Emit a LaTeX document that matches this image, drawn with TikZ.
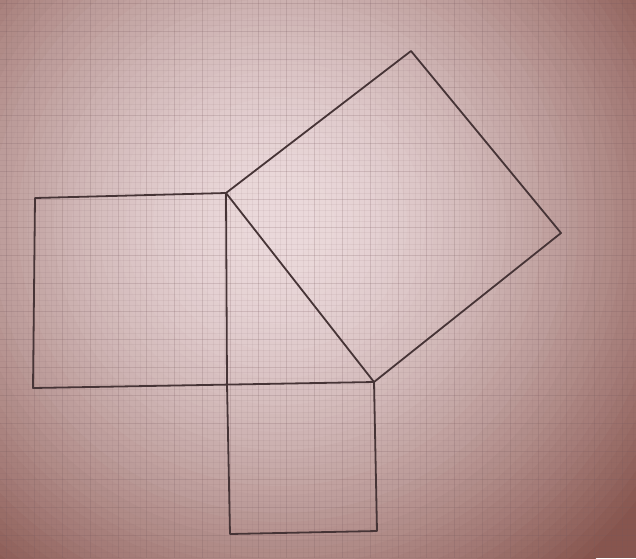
\documentclass[tikz,border=0pt]{standalone}
\definecolor{paperhi}{RGB}{234,216,218}
\definecolor{paperlo}{RGB}{135,85,78}
\definecolor{gridink}{RGB}{120,90,95}
\definecolor{penink}{RGB}{70,52,54}
\begin{document}
\begin{tikzpicture}
  [x=0.5pt,y=-0.5pt,
   gridfine/.style={draw=gridink,line width=0.2pt,opacity=0.08},
   gridbold/.style={draw=gridink,line width=0.3pt,opacity=0.14},
   pencil/.style={draw=penink,line width=0.9pt,line join=round,line cap=round}]
  \useasboundingbox (0,0) rectangle (636,558);
  % paper
  \fill[paperlo] (0,0) rectangle (636,558);
  \begin{scope}
    \clip (0,0) rectangle (636,558);
    \foreach \i in {0,...,47} {
      \pgfmathsetmacro\rad{230-4.5*\i}
      \pgfmathtruncatemacro\p{100*(1-(1-\i/47)^1.5)}
      \fill[paperhi!\p!paperlo] (140pt,-112pt) circle (\rad pt);
    }
    \foreach \g in {0,...,113} {
      \draw[gridfine] (6+5.6*\g,0) -- (6+5.6*\g,558);
      \draw[gridfine] (0,3+5.6*\g) -- (636,3+5.6*\g);
    }
    \foreach \g in {0,...,23} {
      \draw[gridbold] (6+28*\g,0) -- (6+28*\g,558);
      \draw[gridbold] (0,3+28*\g) -- (636,3+28*\g);
    }
  \end{scope}

  % triangle corners
  \coordinate (A) at (226,193);
  \coordinate (C) at (227,384.6);
  \coordinate (B) at (374,382);
  % outer corners of the squares
  \coordinate (l1) at (35,198);
  \coordinate (l2) at (33,388);
  \coordinate (b1) at (377,531);
  \coordinate (b2) at (230,534);
  \coordinate (h1) at (411,51);
  \coordinate (h2) at (561,233);

  \draw[pencil] (A) -- (l1) -- (l2) -- (C) -- (B);
  \draw[pencil] (A) -- (C) -- (b2) -- (b1) -- (B);
  \draw[pencil] (A) -- (h1) -- (h2) -- (B) -- cycle;
\end{tikzpicture}
\end{document}
